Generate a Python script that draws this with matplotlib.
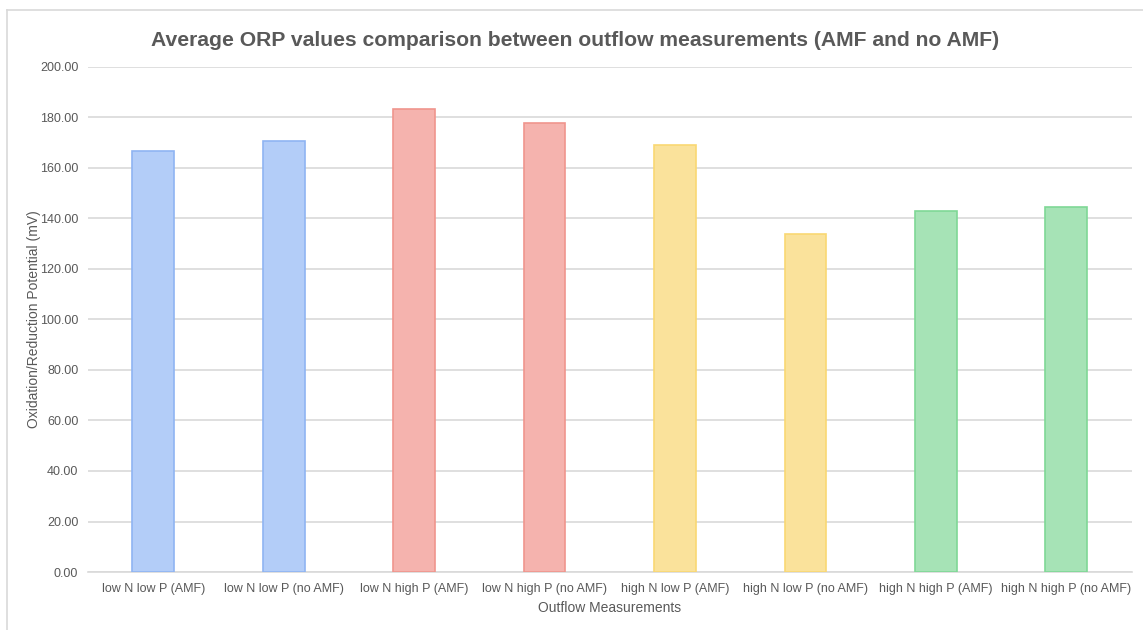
import matplotlib.pyplot as plt
from matplotlib.lines import Line2D

# Données
categories = ["low N low P (AMF)", "low N low P (no AMF)", "low N high P (AMF)",
              "low N high P (no AMF)", "high N low P (AMF)", "high N low P (no AMF)",
              "high N high P (AMF)", "high N high P (no AMF)"]
orp_values = [166.8, 170.8, 183.4, 177.8, 169.2, 133.8, 143.0, 144.6]
y_ticks = [0, 20, 40, 60, 80, 100, 120, 140, 160, 180, 200]

fill_colors = ["#b3cdf8", "#b3cdf8", "#f5b3ae", "#f5b3ae",
               "#fae29b", "#fae29b", "#a6e3b6", "#a6e3b6"]
edge_colors = ["#8fb4f2", "#8fb4f2", "#f0958d", "#f0958d",
               "#f9d873", "#f9d873", "#7fd896", "#7fd896"]

plt.rcParams['font.family'] = ['Liberation Sans', 'DejaVu Sans']

fig = plt.figure(figsize=(11.43, 6.3), dpi=100)
ax = fig.add_axes([0.077, 0.092, 0.913, 0.802])

# Bordure grise (haut et gauche) autour de la figure
fig.lines.append(Line2D([0.006, 1.0], [0.984, 0.984], transform=fig.transFigure,
                        color="#d9d9d9", linewidth=1.2))
fig.lines.append(Line2D([0.006, 0.006], [0.0, 0.984], transform=fig.transFigure,
                        color="#d9d9d9", linewidth=1.2))

x = range(len(categories))
ax.bar(x, orp_values, width=0.32, color=fill_colors, edgecolor=edge_colors,
       linewidth=1.2, zorder=3)

ax.set_xlim(-0.5, len(categories) - 0.5)
ax.set_ylim(0, 200)
ax.set_yticks(y_ticks)
ax.set_yticklabels([f"{v:.2f}" for v in y_ticks])
ax.set_xticks(list(x))
ax.set_xticklabels(categories)

ax.grid(axis="y", color="#d9d9d9", linewidth=1.2, zorder=0)
for s in ["top", "right", "left"]:
    ax.spines[s].set_visible(False)
ax.spines["bottom"].set_color("#d9d9d9")
ax.spines["bottom"].set_linewidth(1.2)
ax.tick_params(axis="both", length=0, labelsize=9, labelcolor="#595959")
ax.tick_params(axis="y", pad=7)
ax.tick_params(axis="x", pad=8)

ax.set_xlabel("Outflow Measurements", fontsize=10, color="#595959", labelpad=4)
ax.set_ylabel("Oxidation/Reduction Potential (mV)", fontsize=10, color="#595959", labelpad=-1)
fig.text(0.503, 0.935, "Average ORP values comparison between outflow measurements (AMF and no AMF)",
         ha="center", va="center", fontsize=15.2, fontweight="bold", color="#595959")

fig.savefig("out.png", dpi=100)
